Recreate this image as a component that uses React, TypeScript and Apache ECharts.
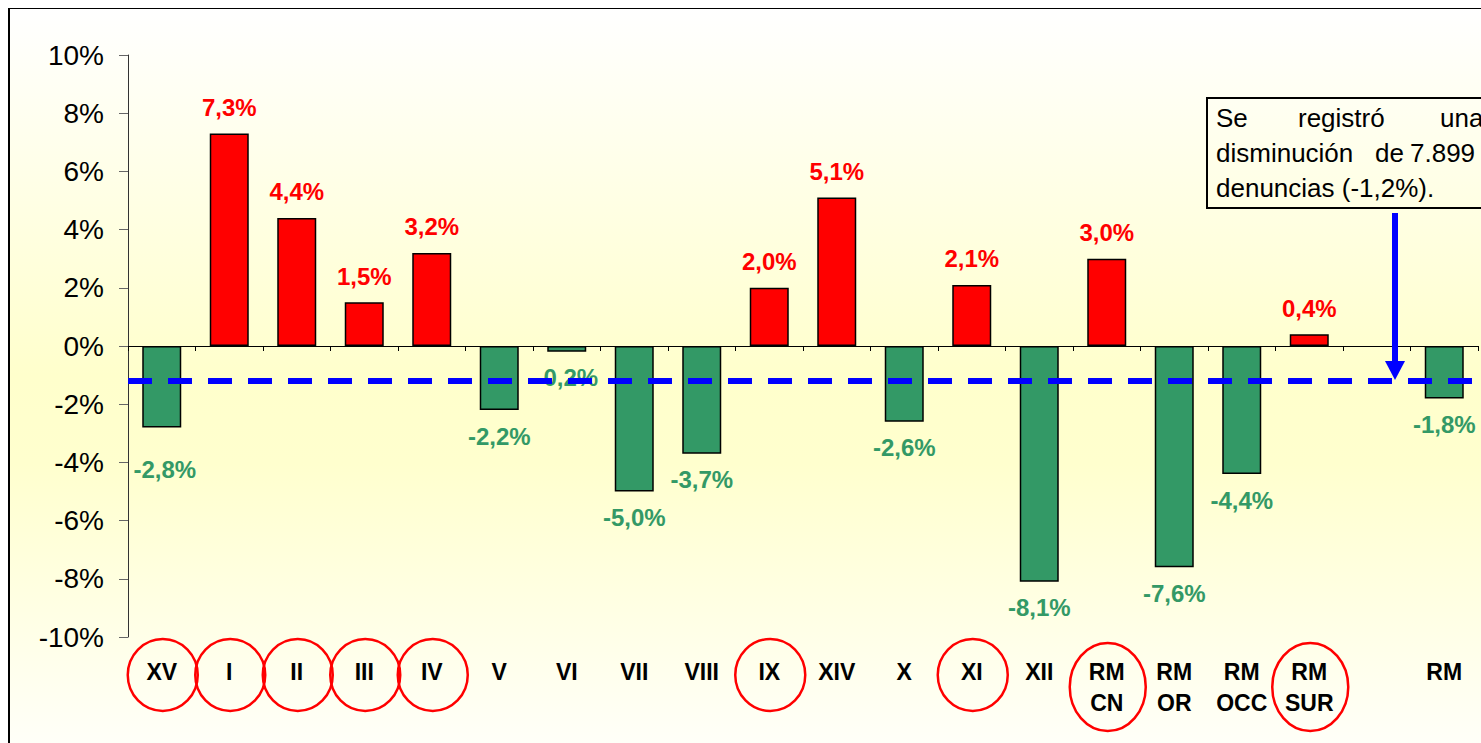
import React, { useEffect, useRef } from "react";
import * as echarts from "echarts";

const categories = [
  "XV", "I", "II", "III", "IV", "V", "VI", "VII", "VIII", "IX", "XIV", "X", "XI", "XII",
  "RM\nCN", "RM\nOR", "RM\nOCC", "RM\nSUR", "", "RM",
];
const changes: (number | null)[] = [
  -2.8, 7.3, 4.4, 1.5, 3.2, -2.2, -0.2, -5.0, -3.7, 2.0, 5.1, -2.6, 2.1, -8.1,
  3.0, -7.6, -4.4, 0.4, null, -1.8,
];
const circledRegions = ["XV", "I", "II", "III", "IV", "IX", "XI", "RM\nCN", "RM\nSUR"];
const averageChange = -1.2;
const yMin = -10;
const yMax = 10;
const yInterval = 2;
const noteLine1 = ["Se", "registró", "una"];
const noteLine2 = ["disminución", "de", "7.899"];
const noteLine3 = "denuncias (-1,2%).";

const FONT = "Liberation Sans, Arial, sans-serif";
const RED = "#FF0000";
const GREEN = "#339966";
const W = 1473;
const H = 735;

const fmt = (v: number) => v.toFixed(1).replace(".", ",") + "%";

export default function App() {
  const ref = useRef<HTMLDivElement>(null);
  useEffect(() => {
    document.documentElement.style.overflow = "hidden";
    document.body.style.margin = "0";
    document.body.style.overflow = "visible";
    const chart = echarts.init(ref.current!, null, { renderer: "svg" });
    const barData = changes.map((v, i) => {
      if (v === null) return null;
      const pos = v >= 0;
      return {
        value: v,
        itemStyle: { color: pos ? RED : GREEN },
        label: {
          position: pos ? "top" : "bottom",
          distance: i === 0 ? 30 : 14,
          offset: i === 0 ? [3, 0] : [0, 0],
          color: pos ? RED : GREEN,
        },
      };
    });
    chart.setOption({
      animation: false,
      backgroundColor: {
        type: "linear", x: 0, y: 0, x2: 0, y2: 1,
        colorStops: [
          { offset: 0, color: "#FFFFFF" },
          { offset: 0.5, color: "#FFFFCC" },
          { offset: 0.62, color: "#FFFFCE" },
          { offset: 1, color: "#FFFFF8" },
        ],
      },
      grid: { left: 120, right: W - 1470, top: 47, bottom: H - 629, containLabel: false, outerBoundsMode: "none" },
      xAxis: [
        {
          type: "category",
          data: categories,
          position: "bottom",
          boundaryGap: true,
          axisLine: { show: true, onZero: true, lineStyle: { color: "#000", width: 1 } },
          axisTick: { show: true, length: 5, interval: 0, lineStyle: { color: "#000" } },
          axisLabel: { show: false },
          splitLine: { show: false },
        },
        {
          type: "category",
          data: categories,
          position: "bottom",
          boundaryGap: true,
          axisLine: { show: false, onZero: false },
          axisTick: { show: false },
          axisLabel: {
            show: true,
            interval: 0,
            margin: 19,
            fontSize: 23,
            fontWeight: "bold",
            fontFamily: FONT,
            color: "#000",
            lineHeight: 31,
          },
          splitLine: { show: false },
        },
      ],
      yAxis: {
        type: "value",
        min: yMin,
        max: yMax,
        interval: yInterval,
        axisLine: { show: true, lineStyle: { color: "#333", width: 1 } },
        axisTick: { show: true, length: 9, lineStyle: { color: "#666" } },
        axisLabel: {
          formatter: (v: number) => `${v}%`,
          fontSize: 28,
          fontFamily: FONT,
          color: "#000",
          margin: 24,
        },
        splitLine: { show: false },
      },
      series: [
        {
          type: "bar",
          xAxisIndex: 0,
          data: barData,
          barWidth: 39,
          itemStyle: { borderColor: "#000", borderWidth: 1.5 },
          label: {
            show: true,
            fontSize: 24,
            fontWeight: "bold",
            fontFamily: FONT,
            formatter: (p: any) => fmt(p.value),
          },
          markLine: {
            silent: true,
            symbol: "none",
            z: 10,
            label: { show: false },
            lineStyle: { color: "#0000FF", width: 6, type: [24, 16] },
            data: [{ yAxis: averageChange }],
          },
        },
      ],
    });

    const circles = circledRegions.map((c) => {
      const idx = categories.indexOf(c);
      const cx = chart.convertToPixel({ xAxisIndex: 1 }, idx) as number;
      const twoLine = c.includes("\n");
      return {
        type: "ellipse",
        shape: { cx: cx + 1, cy: twoLine ? 679 : 667, rx: twoLine ? 38 : 35, ry: twoLine ? 44 : 36 },
        style: { fill: "none", stroke: RED, lineWidth: 2.5 },
        z: 20,
      };
    });
    const txt = (text: string, x: number, y: number) => ({
      type: "text",
      x,
      y,
      style: { text, fill: "#000", font: `26px ${FONT}`, textAlign: "left", textVerticalAlign: "middle" },
      z: 30,
    });
    const notePos1 = [1208, 1290, 1432];
    const notePos2 = [1208, 1367, 1402];
    chart.setOption({
      graphic: {
        elements: [
          {
            type: "rect",
            shape: { x: 1, y: 0, width: W + 20, height: H + 20 },
            style: { fill: "none", stroke: "#000", lineWidth: 2 },
            z: 30,
          },
          {
            type: "rect",
            shape: { x: 1199, y: 90, width: 320, height: 110 },
            style: { fill: "none", stroke: "#000", lineWidth: 2 },
            z: 30,
          },
          ...noteLine1.map((w, i) => txt(w, notePos1[i], 110)),
          ...noteLine2.map((w, i) => txt(w, notePos2[i], 145)),
          txt(noteLine3, 1208, 180),
          {
            type: "line",
            shape: { x1: 1387, y1: 205, x2: 1387, y2: 355 },
            style: { stroke: "#0000FF", lineWidth: 6 },
            z: 30,
          },
          {
            type: "polygon",
            shape: { points: [[1377, 353], [1397, 353], [1387, 372]] },
            style: { fill: "#0000FF" },
            z: 30,
          },
          ...circles,
        ],
      },
    });
    return () => chart.dispose();
  }, []);
  return (
    <div style={{ position: "absolute", left: 0, top: 0, width: 1481, height: 743, background: "#fff" }}>
      <div ref={ref} style={{ position: "absolute", left: 8, top: 8, width: W, height: H }} />
    </div>
  );
}
